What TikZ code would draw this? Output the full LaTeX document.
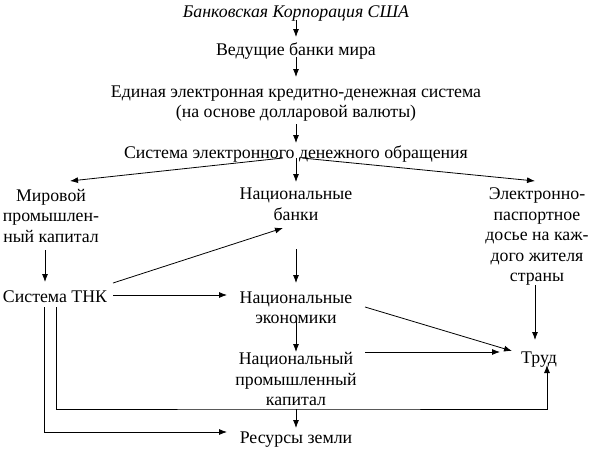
\documentclass[tikz,border=0pt]{standalone}
\usepackage{fontspec}
\setmainfont{Liberation Serif}
\newfontfamily\ruserif{Liberation Serif}
\usepackage{tikz}
\usetikzlibrary{calc}
\usetikzlibrary{arrows.meta}
\tikzset{>={Latex[length=8pt,width=6pt]}}
\newcommand{\txtsize}{\ruserif\fontsize{17.8}{20.5}\selectfont}
\tikzset{txt/.style = {draw=none, inner sep=0, align=center, font=\txtsize}}

\begin{document}
\begin{tikzpicture}[x=1pt, y=-1pt, line width=0.8pt]
\useasboundingbox (0,0) rectangle (592,450);
% top chain
\node [txt, font=\txtsize\itshape] (BK) at (296, 13.5) {Банковская Корпорация США};
\node [txt] (VB) at (296, 51.5) {Ведущие банки мира};
\node [txt] (EES) at (296, 103.5) {Единая электронная кредитно-денежная система\\(на основе долларовой валюты)};
\node [txt] (SEDO) at (296, 154.5) {Система электронного денежного обращения};
% second level
\node [txt] (MPK) at (51, 215.5) {Мировой\\промышлен-\\ный капитал};
\node [txt] (NB) at (296, 204.5) {Национальные\\банки};
\node [txt] (EPD) at (537, 236.5) {Электронно-\\паспортное\\досье на каж-\\дого жителя\\страны};
% lower part
\node [txt] (TNK) at (55, 296.5) {Система ТНК};
\node [txt] (NE) at (296, 308) {Национальные\\экономики};
\node [txt] (NPK) at (296, 379) {Национальный\\промышленный\\капитал};
\node [txt] (Trud) at (539, 359.5) {Труд};
\node [txt] (RZ) at (296, 439.5) {Ресурсы земли};
\coordinate (low1) at (296, 409);
% connectors
\draw [->] ($(BK)+(0,6.5)$) to ($(VB)+(0,-14.5)$);
\draw [->] ($(VB)+(0,5.5)$) to ($(EES)+(0,-26.5)$);
\draw [->] ($(EES)+(0,20.5)$) to ($(SEDO)+(0,-11.5)$);
\draw [->] ($(SEDO)+(-13,3.5)$) to ($(MPK)+(19,-34.5)$);
\draw [->] ($(SEDO)+(0,3.5)$) to ($(NB)+(0,-22.5)$);
\draw [->] ($(SEDO)+(6,3.5)$) to ($(EPD)+(-2,-55.5)$);
\draw [->] ($(MPK)+(-6,34.5)$) to ($(TNK)+(-10,-14.5)$);
\draw [->] ($(TNK)+(58,-13.5)$) to ($(NB)+(-13,23.5)$);
\draw [->] ($(TNK)+(58,-1.5)$) to ($(NE)+(-69,-13)$);
\draw [->] ($(NB)+(0,44.5)$) to ($(NE)+(0,-25)$);
\draw [->] ($(EPD)+(-2,48.5)$) to ($(Trud)+(-4,-19.5)$);
\draw [->] ($(NE)+(69,-1)$) to ($(Trud)+(-27,-8.5)$);
\draw [->] ($(NE)+(0,10)$) to ($(NPK)+(0,-27)$);
\draw [->] ($(NPK)+(69,-27)$) to ($(Trud)+(-39,-7.5)$);
\draw [->] ($(TNK)+(1,10.5)$) |- (low1) -| ($(Trud)+(8,5.5)$);
\draw [->] ($(TNK)+(-11,10.5)$) |- ($(RZ)+(-69,-7.5)$);
\draw [->] (low1) to ($(RZ)+(0,-11.5)$);
\end{tikzpicture}
\end{document}
